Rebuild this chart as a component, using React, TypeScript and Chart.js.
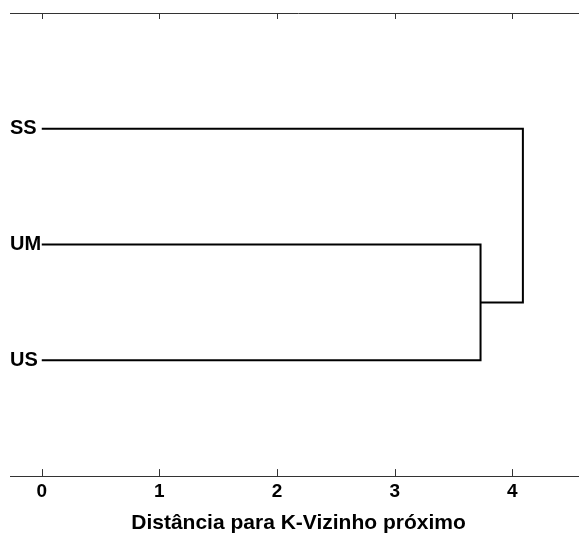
import React, { useEffect, useRef } from "react";
import { Chart, registerables } from "chart.js";

Chart.register(...registerables);

// Leaves (bottom to top)
const leafLabels = ["US", "UM", "SS"];
const leafPositions = [1, 2, 3];
// Merges: left child position/height, right child position/height, merge distance
const mergeLeftPos = [1, 1.5];
const mergeLeftHeight = [0, 3.73];
const mergeRightPos = [2, 3];
const mergeRightHeight = [0, 0];
const mergeDistance = [3.73, 4.09];
const xTicks = [0, 1, 2, 3, 4];
const xTitle = "Distância para K-Vizinho próximo";

const FONT = "'Liberation Sans', Arial, sans-serif";

const inwardTicks = {
  id: "inwardTicks",
  afterDraw(chart: any) {
    const { ctx, chartArea, scales } = chart;
    const x = scales.x;
    ctx.save();
    ctx.strokeStyle = "#333333";
    ctx.lineWidth = 1;
    ctx.beginPath();
    ctx.moveTo(chartArea.left, chartArea.top + 0.5);
    ctx.lineTo(chartArea.right, chartArea.top + 0.5);
    ctx.stroke();
    for (const v of xTicks) {
      const px = Math.round(x.getPixelForValue(v)) + 0.5;
      ctx.beginPath();
      ctx.moveTo(px, chartArea.top);
      ctx.lineTo(px, chartArea.top + 6);
      ctx.moveTo(px, chartArea.bottom);
      ctx.lineTo(px, chartArea.bottom - 7);
      ctx.stroke();
    }
    ctx.restore();
  },
};

export default function App() {
  const ref = useRef<HTMLCanvasElement | null>(null);
  useEffect(() => {
    if (!ref.current) return;
    const datasets = mergeDistance.map((d, i) => ({
      data: [
        { x: mergeLeftHeight[i], y: mergeLeftPos[i] },
        { x: d, y: mergeLeftPos[i] },
        { x: d, y: mergeRightPos[i] },
        { x: mergeRightHeight[i], y: mergeRightPos[i] },
      ],
      showLine: true,
      borderColor: "#000000",
      borderWidth: 2,
      pointRadius: 0,
      fill: false,
      tension: 0,
      borderJoinStyle: "miter" as const,
    }));
    const chart = new Chart(ref.current, {
      type: "scatter",
      data: { datasets },
      options: {
        animation: false,
        responsive: false,
        layout: { padding: { left: 2, top: 5, right: 0, bottom: 0.5 } },
        plugins: { legend: { display: false }, tooltip: { enabled: false } },
        scales: {
          x: {
            type: "linear",
            min: -0.27,
            max: 4.635,
            afterBuildTicks: (axis: any) => {
              axis.ticks = xTicks.map((v) => ({ value: v }));
            },
            grid: { display: false, drawTicks: false },
            border: { display: true, color: "#333333", width: 1 },
            ticks: {
              color: "#000000",
              font: { family: FONT, size: 19, weight: "bold" },
              padding: 4,
              maxRotation: 0,
              autoSkip: false,
            },
            title: {
              display: true,
              text: xTitle,
              color: "#000000",
              font: { family: FONT, size: 21, weight: "bold", lineHeight: 0.9 },
              padding: { top: 6.7, bottom: 0 },
            },
          },
          y: {
            type: "linear",
            min: 0,
            max: 4,
            afterBuildTicks: (axis: any) => {
              axis.ticks = leafPositions.map((v) => ({ value: v }));
            },
            grid: { display: false, drawTicks: false },
            border: { display: false },
            ticks: {
              mirror: true,
              padding: 0,
              color: "#000000",
              font: { family: FONT, size: 20, weight: "bold", lineHeight: 0.45 },
              callback: (value: any) => {
                const idx = leafPositions.indexOf(Number(value));
                return idx >= 0 ? leafLabels[idx] : "";
              },
            },
          },
        },
      },
      plugins: [inwardTicks],
    });
    return () => chart.destroy();
  }, []);
  return (
    <div style={{ width: 579, height: 525 }}>
      <canvas ref={ref} width={579} height={525} style={{ display: "block" }} />
    </div>
  );
}
